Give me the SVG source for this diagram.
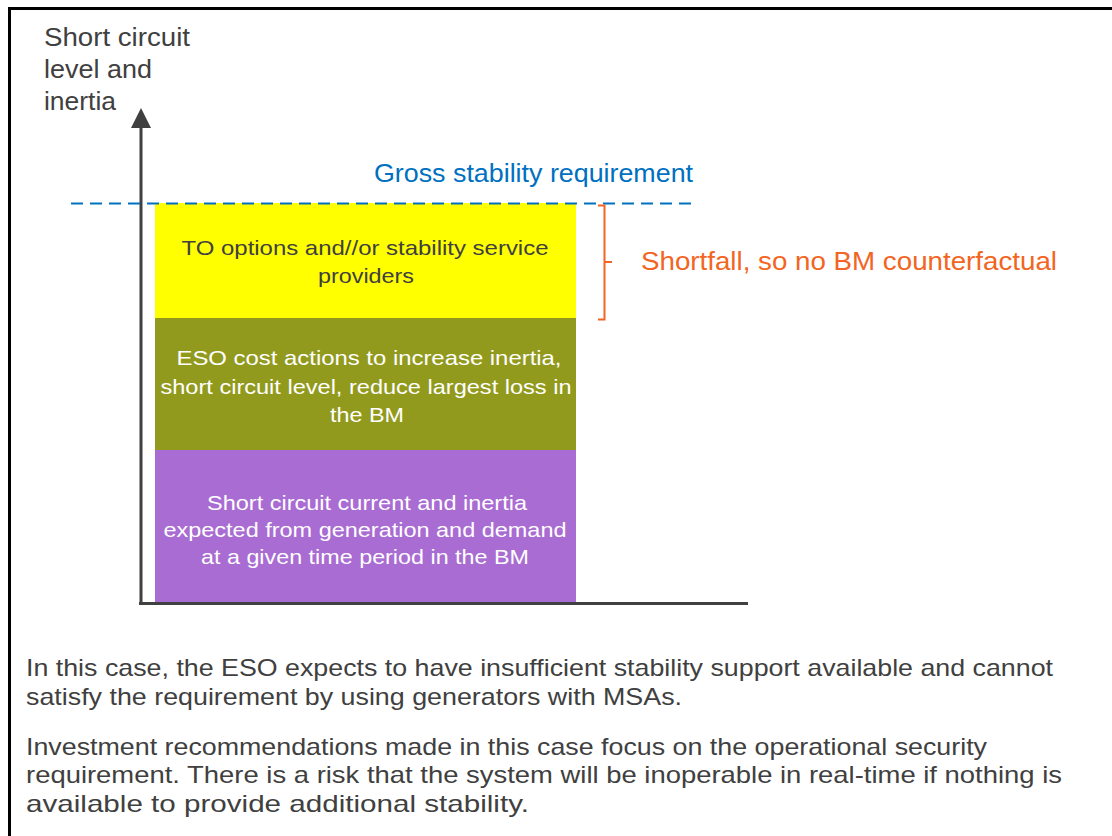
<svg xmlns="http://www.w3.org/2000/svg" width="1112" height="836" viewBox="0 0 1112 836">
<style>
  text { font-family: "Liberation Sans", Arial, sans-serif; }
  .axlab { font-size: 25px; fill: #404040; }
  .box { font-size: 21px; text-anchor: middle; }
  .dark { fill: #404040; }
  .light { fill: #ffffff; }
  .note { font-size: 24px; fill: #404040; }
  .axis { stroke: #404040; stroke-width: 3; fill: none; }
</style>
<rect x="0" y="0" width="1112" height="836" fill="#ffffff"/>
<rect x="9.5" y="8.5" width="1115" height="845" fill="none" stroke="#000000" stroke-width="3"/>

<g id="axis-label">
  <text class="axlab" x="44" y="46" textLength="146" lengthAdjust="spacingAndGlyphs">Short circuit</text>
  <text class="axlab" x="44" y="78" textLength="108" lengthAdjust="spacingAndGlyphs">level and</text>
  <text class="axlab" x="44" y="110" textLength="72" lengthAdjust="spacingAndGlyphs">inertia</text>
</g>

<g id="box-purple">
  <rect x="155" y="450" width="421" height="154" fill="#A96CD3"/>
  <text class="box light" x="367" y="510" textLength="320" lengthAdjust="spacingAndGlyphs">Short circuit current and inertia</text>
  <text class="box light" x="365" y="537" textLength="403" lengthAdjust="spacingAndGlyphs">expected from generation and demand</text>
  <text class="box light" x="365" y="564" textLength="328" lengthAdjust="spacingAndGlyphs">at a given time period in the BM</text>
</g>

<g id="box-olive">
  <rect x="155" y="318" width="421" height="132" fill="#929A1E"/>
  <text class="box light" x="369" y="365" textLength="385" lengthAdjust="spacingAndGlyphs">ESO cost actions to increase inertia,</text>
  <text class="box light" x="366" y="394" textLength="411" lengthAdjust="spacingAndGlyphs">short circuit level, reduce largest loss in</text>
  <text class="box light" x="367" y="422" textLength="74" lengthAdjust="spacingAndGlyphs">the BM</text>
</g>

<g id="box-yellow">
  <rect x="155" y="203" width="421" height="115" fill="#FFFF00"/>
  <text class="box dark" x="365" y="255" textLength="367" lengthAdjust="spacingAndGlyphs">TO options and//or stability service</text>
  <text class="box dark" x="366" y="283" textLength="96" lengthAdjust="spacingAndGlyphs">providers</text>
</g>

<g id="connectors">
  <line class="axis" x1="141" y1="604" x2="141" y2="126"/>
  <polygon points="141,108 131,128 151,128" fill="#404040"/>
  <line class="axis" x1="139" y1="603.5" x2="748" y2="603.5"/>
  <line x1="71" y1="203.5" x2="693" y2="203.5" stroke="#0070C0" stroke-width="2" stroke-dasharray="12,7"/>
  <path d="M598,205.5 H604.5 V319.5 H598 M604.5,262 H612" fill="none" stroke="#F26522" stroke-width="2"/>
</g>

<g id="requirement-label">
  <text x="374" y="182" font-size="25" fill="#0070C0" textLength="319" lengthAdjust="spacingAndGlyphs">Gross stability requirement</text>
</g>

<g id="shortfall-label">
  <text x="641" y="270" font-size="25" fill="#F26522" textLength="416" lengthAdjust="spacingAndGlyphs">Shortfall, so no BM counterfactual</text>
</g>

<g id="notes">
  <text class="note" x="26" y="676" textLength="1027" lengthAdjust="spacingAndGlyphs">In this case, the ESO expects to have insufficient stability support available and cannot</text>
  <text class="note" x="26" y="705" textLength="656" lengthAdjust="spacingAndGlyphs">satisfy the requirement by using generators with MSAs.</text>
  <text class="note" x="26" y="755" textLength="961" lengthAdjust="spacingAndGlyphs">Investment recommendations made in this case focus on the operational security</text>
  <text class="note" x="26" y="783" textLength="1036" lengthAdjust="spacingAndGlyphs">requirement. There is a risk that the system will be inoperable in real-time if nothing is</text>
  <text class="note" x="26" y="812" textLength="503" lengthAdjust="spacingAndGlyphs">available to provide additional stability.</text>
</g>
</svg>
